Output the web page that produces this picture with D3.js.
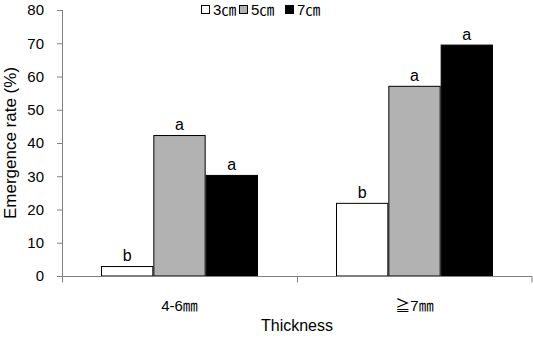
<!DOCTYPE html>
<html>
<head>
<meta charset="utf-8">
<script src="https://cdn.jsdelivr.net/npm/d3@7/dist/d3.min.js"></script>
<style>
  html, body { margin: 0; padding: 0; background: #fff; }
  svg text { font-family: "Liberation Sans", Arial, sans-serif; fill: #000; }
  svg text.cjk { font-family: "Liberation Sans", "Noto Sans CJK JP", sans-serif; }
</style>
</head>
<body>
<svg id="chart" width="533" height="341"></svg>
<script>
// Thickness classes on the x axis
const categories = ["4-6㎜", "≧7㎜"];
// Burial depth series
const seriesNames = ["3㎝", "5㎝", "7㎝"];
const seriesColors = ["#ffffff", "#b2b2b2", "#000000"];
// Emergence rate (%) per series, one value per thickness class
const depth3cm = [3.0, 22.0];
const depth5cm = [42.4, 57.2];
const depth7cm = [30.4, 69.6];
// Significance letters per series
const letters3cm = ["b", "b"];
const letters5cm = ["a", "a"];
const letters7cm = ["a", "a"];
const yTicks = [0, 10, 20, 30, 40, 50, 60, 70, 80];

const seriesValues = [depth3cm, depth5cm, depth7cm];
const seriesLetters = [letters3cm, letters5cm, letters7cm];

const svg = d3.select("#chart");
const margin = { left: 62, right: 1, top: 10, bottom: 65 };
const W = 533, H = 341;

const x0 = d3.scaleBand().domain(categories).range([margin.left, W - margin.right]).paddingInner(0).paddingOuter(0);
const x1 = d3.scaleBand().domain(seriesNames.map((d, i) => i)).range([0, x0.bandwidth() * 0.668]);
const groupOffset = (x0.bandwidth() - x0.bandwidth() * 0.668) / 2;
const y = d3.scaleLinear().domain([0, 80]).range([H - margin.bottom, margin.top]);

const axisColor = "#808080";

// Bars
categories.forEach((cat, ci) => {
  seriesValues.forEach((vals, si) => {
    const bx = x0(cat) + groupOffset + x1(si);
    svg.append("rect")
      .attr("x", bx + 0.5)
      .attr("y", y(vals[ci]) + 0.5)
      .attr("width", x1.bandwidth() - 1)
      .attr("height", y(0) - y(vals[ci]) - 0.5)
      .attr("fill", seriesColors[si])
      .attr("stroke", "#000")
      .attr("stroke-width", 1);
    svg.append("text")
      .attr("x", bx + x1.bandwidth() / 2)
      .attr("y", y(vals[ci]) - 5)
      .attr("text-anchor", "middle")
      .style("font-size", "16px")
      .text(seriesLetters[si][ci]);
  });
});

// Y axis
const yAxis = svg.append("g")
  .attr("transform", `translate(${margin.left},0)`)
  .call(d3.axisLeft(y).tickValues(yTicks).tickSize(5).tickPadding(13).tickFormat(d3.format("d")));
yAxis.selectAll("path, line").attr("stroke", axisColor);
yAxis.select(".domain").attr("d", `M0.5,${y(80)}V${y(0)}`);
yAxis.selectAll("text").style("font-size", "15px").style("font-family", "Liberation Sans, Arial, sans-serif").attr("fill", "#000");

// X axis baseline with boundary ticks
const xAxisG = svg.append("g").attr("transform", `translate(0,${y(0) + 0.5})`);
xAxisG.append("line").attr("x1", margin.left).attr("x2", W - margin.right)
  .attr("stroke", axisColor);
const bounds = [x0(categories[0]), x0(categories[1]), x0(categories[1]) + x0.bandwidth() - 0.5];
bounds.forEach(b => {
  xAxisG.append("line").attr("x1", b + 0.5).attr("x2", b + 0.5).attr("y1", 0).attr("y2", 6)
    .attr("stroke", axisColor);
});
categories.forEach(cat => {
  svg.append("text")
    .attr("class", "cjk")
    .attr("x", x0(cat) + x0.bandwidth() / 2)
    .attr("y", 311)
    .attr("text-anchor", "middle")
    .style("font-size", "15px")
    .text(cat);
});

// Axis titles
svg.append("text")
  .attr("x", (margin.left + W - margin.right) / 2)
  .attr("y", 331)
  .attr("text-anchor", "middle")
  .style("font-size", "16px")
  .text("Thickness");
svg.append("text")
  .attr("transform", `translate(16,${(y(0) + y(80)) / 2}) rotate(-90)`)
  .attr("text-anchor", "middle")
  .style("font-size", "17px")
  .text("Emergence rate (%)");

// Legend
const legendX = [201, 239, 285];
seriesNames.forEach((name, i) => {
  svg.append("rect")
    .attr("x", legendX[i] + 0.5).attr("y", 5.5)
    .attr("width", 8).attr("height", 8)
    .attr("fill", seriesColors[i])
    .attr("stroke", "#000");
  svg.append("text")
    .attr("class", "cjk")
    .attr("x", legendX[i] + 12)
    .attr("y", 15)
    .style("font-size", "15px")
    .text(name);
});
</script>
</body>
</html>
